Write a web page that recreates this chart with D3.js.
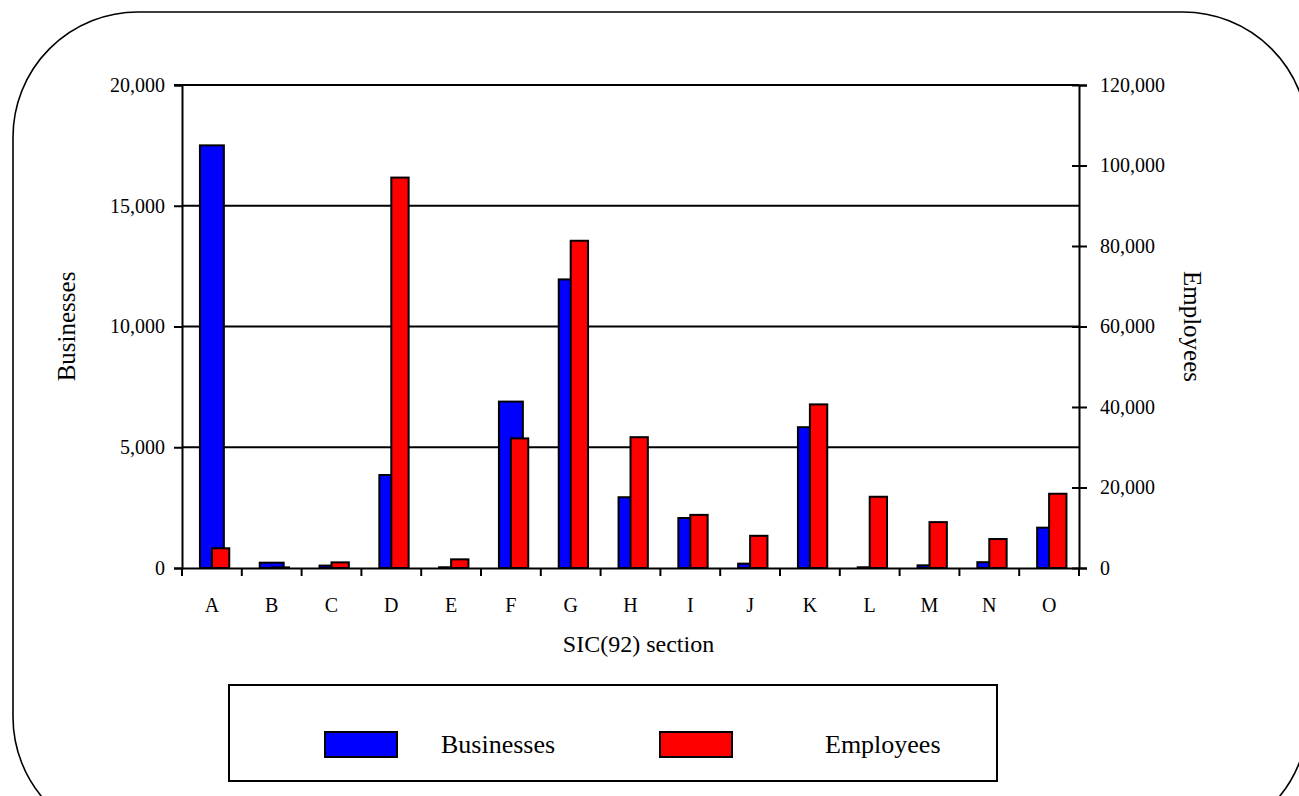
<!DOCTYPE html>
<html>
<head>
<meta charset="utf-8">
<script src="https://cdn.jsdelivr.net/npm/d3@7"></script>
<style>
  body { margin: 0; background: #fff; }
  svg { display: block; }
  text { font-family: "Liberation Serif", "Times New Roman", serif; fill: #000; }
</style>
</head>
<body>
<svg width="1299" height="796"></svg>
<script>
// data
const sections = ["A", "B", "C", "D", "E", "F", "G", "H", "I", "J", "K", "L", "M", "N", "O"];
const businesses = [17500, 220, 100, 3850, 30, 6890, 11950, 2930, 2070, 180, 5830, 30, 110, 240, 1670];
const employees = [4900, 150, 1400, 97000, 2150, 32200, 81300, 32500, 13200, 8000, 40650, 17700, 11400, 7200, 18450];
const leftTicks = [0, 5000, 10000, 15000, 20000];
const rightTicks = [0, 20000, 40000, 60000, 80000, 100000, 120000];

const serif = "Liberation Serif, Times New Roman, serif";

let svg = d3.select("svg");

const plotLeft = 182, plotRight = 1079, plotTop = 85, plotBottom = 568;

// rounded frame around everything (runs off the bottom edge)
svg.append("rect")
    .attr("x", 13).attr("y", 12)
    .attr("width", 1295).attr("height", 830)
    .attr("rx", 125).attr("ry", 125)
    .attr("fill", "none")
    .attr("stroke", "#000")
    .attr("stroke-width", 1.6);

let x = d3.scaleBand().domain(sections).range([plotLeft, plotRight]);
let yL = d3.scaleLinear().domain([0, 20000]).range([plotBottom, plotTop]);
let yR = d3.scaleLinear().domain([0, 120000]).range([plotBottom, plotTop]);

let fmt = d3.format(",");

// horizontal grid lines
svg.append("g")
    .selectAll("line")
    .data(leftTicks.slice(1))
    .join("line")
    .attr("x1", plotLeft).attr("x2", plotRight)
    .attr("y1", d => yL(d)).attr("y2", d => yL(d))
    .attr("stroke", "#000")
    .attr("stroke-width", 2);

// bars
let bw = x.bandwidth();
let g = svg.append("g");
g.selectAll("rect.bus")
    .data(sections)
    .join("rect")
    .attr("class", "bus")
    .attr("x", d => x(d) + bw * 0.3)
    .attr("width", bw * 0.4)
    .attr("y", (d, i) => yL(businesses[i]))
    .attr("height", (d, i) => plotBottom - yL(businesses[i]))
    .attr("fill", "#0000ff")
    .attr("stroke", "#000")
    .attr("stroke-width", 2);

g.selectAll("rect.emp")
    .data(sections)
    .join("rect")
    .attr("class", "emp")
    .attr("x", d => x(d) + bw * 0.5)
    .attr("width", bw * 0.29)
    .attr("y", (d, i) => yR(employees[i]))
    .attr("height", (d, i) => plotBottom - yR(employees[i]))
    .attr("fill", "#ff0000")
    .attr("stroke", "#000")
    .attr("stroke-width", 2);

// left axis
let axL = svg.append("g")
    .attr("transform", "translate(" + plotLeft + ",0)")
    .call(d3.axisLeft(yL).tickValues(leftTicks).tickFormat(fmt).tickSize(8).tickPadding(9));

// right axis
let axR = svg.append("g")
    .attr("transform", "translate(" + plotRight + ",0)")
    .call(d3.axisRight(yR).tickValues(rightTicks).tickFormat(fmt).tickSize(8).tickPadding(13));
axR.selectAll(".tick line").attr("x1", -7);

// bottom axis
let axB = svg.append("g")
    .attr("transform", "translate(0," + plotBottom + ")")
    .call(d3.axisBottom(x).tickSize(0).tickPadding(30));
axB.selectAll(".tick line").remove();
axB.append("g")
    .selectAll("line")
    .data(d3.range(sections.length + 1))
    .join("line")
    .attr("x1", i => plotLeft + i * bw).attr("x2", i => plotLeft + i * bw)
    .attr("y1", 0).attr("y2", 8)
    .attr("stroke", "#000")
    .attr("stroke-width", 2);

[axL, axR, axB].forEach(a => {
    a.attr("font-family", serif).attr("font-size", 20);
    a.selectAll("path.domain").attr("stroke", "#000").attr("stroke-width", 2);
    a.selectAll(".tick line").attr("stroke", "#000").attr("stroke-width", 2);
    a.selectAll("text").attr("fill", "#000");
});

// top frame line
svg.append("line")
    .attr("x1", plotLeft - 8).attr("x2", plotRight)
    .attr("y1", plotTop).attr("y2", plotTop)
    .attr("stroke", "#000").attr("stroke-width", 2);

// axis titles
svg.append("text")
    .attr("transform", "translate(75," + (plotTop + plotBottom) / 2 + ") rotate(-90)")
    .attr("text-anchor", "middle")
    .attr("font-family", serif)
    .attr("font-size", 25)
    .text("Businesses");

svg.append("text")
    .attr("transform", "translate(1184," + (plotTop + plotBottom) / 2 + ") rotate(90)")
    .attr("text-anchor", "middle")
    .attr("font-family", serif)
    .attr("font-size", 25)
    .text("Employees");

svg.append("text")
    .attr("x", (plotLeft + plotRight) / 2 + 8)
    .attr("y", 652)
    .attr("text-anchor", "middle")
    .attr("font-family", serif)
    .attr("font-size", 24)
    .text("SIC(92) section");

// legend
let legend = svg.append("g");
legend.append("rect")
    .attr("x", 229).attr("y", 685)
    .attr("width", 768).attr("height", 96)
    .attr("fill", "#fff")
    .attr("stroke", "#000").attr("stroke-width", 2);

const legendItems = [
    { name: "Businesses", color: "#0000ff", sx: 325, tx: 441 },
    { name: "Employees", color: "#ff0000", sx: 660, tx: 825 }
];
let li = legend.selectAll("g.item")
    .data(legendItems)
    .join("g")
    .attr("class", "item");
li.append("rect")
    .attr("x", d => d.sx).attr("y", 732)
    .attr("width", 72).attr("height", 25)
    .attr("fill", d => d.color)
    .attr("stroke", "#000").attr("stroke-width", 2);
li.append("text")
    .attr("x", d => d.tx).attr("y", 753)
    .attr("font-family", serif)
    .attr("font-size", 26)
    .text(d => d.name);
</script>
</body>
</html>
